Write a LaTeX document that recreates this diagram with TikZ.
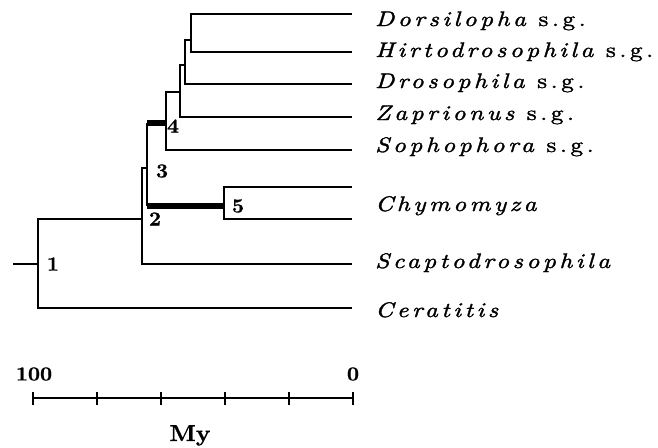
\documentclass[tikz,border=0pt]{standalone}
\usepackage{fontspec}
\newfontfamily\taxfont{lmroman10}[Extension=.otf, UprightFont=*-regular, ItalicFont=*-italic, FakeStretch=1.2, FakeBold=1.6, LetterSpace=17]
\newfontfamily\numfont{lmroman10}[Extension=.otf, UprightFont=*-bold, FakeStretch=1.05, FakeBold=0.8]
\begin{document}
\begin{tikzpicture}[x=1pt, y=-1pt,
  branch/.style={line width=2pt},
  midbranch/.style={line width=2.8pt},
  heavy/.style={line width=5.5pt},
  taxon/.style={anchor=base west, inner sep=0pt, font=\taxfont\fontsize{21}{21}\selectfont\itshape},
  nodenum/.style={inner sep=0pt, font=\numfont\fontsize{20}{20}\selectfont}]
\useasboundingbox (0,0) rectangle (658,447);
% Inner nodes of the tree
\coordinate (root) at (13,264);
\coordinate (n1) at (38,264);
\coordinate (n2) at (142,219);
\coordinate (n3) at (147,168);
\coordinate (n4) at (166,123);
\coordinate (n5) at (224,206);
\coordinate (n6) at (180,92);
\coordinate (n7) at (185,65);
\coordinate (n8) at (191,40);
% Tips of the branches
\coordinate (tDors) at (352,14);
\coordinate (tHirt) at (352,52);
\coordinate (tDros) at (352,84);
\coordinate (tZap) at (352,117);
\coordinate (tSoph) at (352,150);
\coordinate (tChyA) at (352,187);
\coordinate (tChyB) at (352,219);
\coordinate (tScap) at (352,264);
\coordinate (tCer) at (352,308);
% Draw branches
\draw[branch] (root) -- (n1);
\draw[branch] (n1) |- (tCer);
\draw[branch] (n1) |- (n2);
\draw[branch] (n2) |- (tScap);
\draw[branch] (n2) |- (n3);
\draw[midbranch] (n3 |- n4) -- (n3 |- n5);
\draw[heavy] (n3 |- n4) -- (n4);
\draw[heavy] (n3 |- n5) -- (n5);
\draw[branch] (n5) |- (tChyA);
\draw[branch] (n5) |- (tChyB);
\draw[branch] (n4) |- (tSoph);
\draw[branch] (n4) |- (n6);
\draw[branch] (n6) |- (tZap);
\draw[branch] (n6) |- (n7);
\draw[branch] (n7) |- (tDros);
\draw[branch] (n7) |- (n8);
\draw[branch] (n8) |- (tDors);
\draw[branch] (n8) |- (tHirt);
% Node numbers
\node[nodenum] (l1) at (53,264) {1};
\node[nodenum] (l2) at (155,219) {2};
\node[nodenum] (l3) at (162,171) {3};
\node[nodenum] (l4) at (173,126) {4};
\node[nodenum] (l5) at (238,206) {5};
% Taxa
\node[taxon] (dors) at (375,26) {Dorsilopha \upshape s.g.};
\node[taxon] (hirt) at (375,57) {Hirtodrosophila \upshape s.g.};
\node[taxon] (dros) at (375,88) {Drosophila \upshape s.g.};
\node[taxon] (zap) at (375,120) {Zaprionus \upshape s.g.};
\node[taxon] (soph) at (375,152) {Sophophora \upshape s.g.};
\node[taxon] (chy) at (375,211) {Chymomyza};
\node[taxon] (scap) at (375,268) {Scaptodrosophila};
\node[taxon] (cer) at (375,317) {Ceratitis};
% Time scale
\draw[branch] (33,398) -- (353,398);
\foreach \t in {33,97,161,225,289,353}
  \draw[branch] (\t,392) -- (\t,405);
\node[nodenum] (s100) at (34,374) {100};
\node[nodenum] (s0) at (353,374) {0};
\node[nodenum, anchor=base, font=\numfont\fontsize{23}{23}\selectfont] (my) at (190,441) {My};
\end{tikzpicture}
\end{document}
